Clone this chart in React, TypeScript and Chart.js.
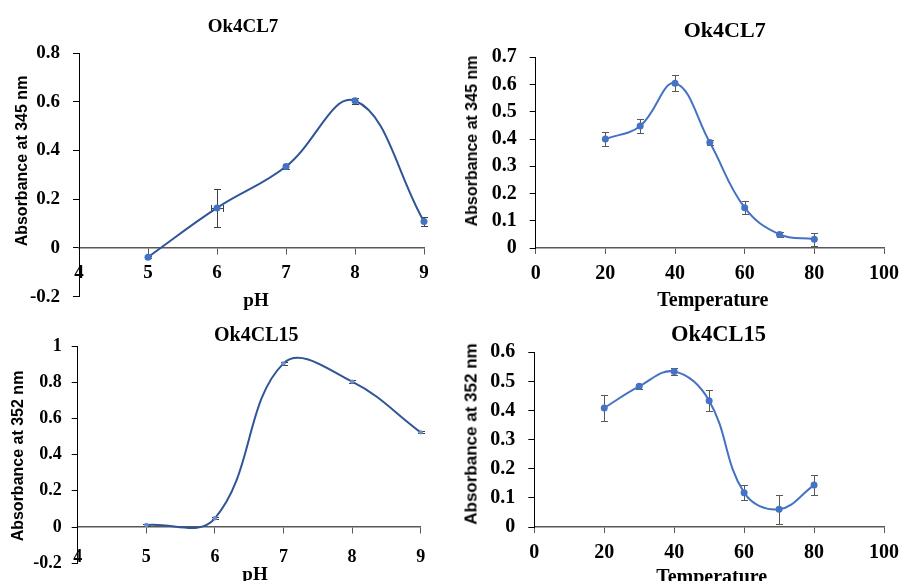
import React, { useEffect, useRef } from "react";
import { Chart, registerables } from "chart.js";

Chart.register(...registerables);

// ---------- DATA ----------
const phValues = [5, 6, 7, 8, 9];
const tempValues = [20, 30, 40, 50, 60, 70, 80];

const cl7PhAbs = [-0.038, 0.164, 0.334, 0.604, 0.108];
const cl7PhErr = [0.004, 0.078, 0.01, 0.012, 0.018];
const cl7PhXErr = [0, 0.085, 0, 0, 0];

const cl7TempAbs = [0.4, 0.448, 0.605, 0.387, 0.148, 0.05, 0.032];
const cl7TempErr = [0.026, 0.027, 0.03, 0.01, 0.024, 0.01, 0.023];

const cl15PhAbs = [0.011, 0.048, 0.904, 0.803, 0.523];
const cl15PhErr = [0.003, 0.005, 0.01, 0.008, 0.005];

const cl15TempAbs = [0.409, 0.483, 0.534, 0.434, 0.118, 0.061, 0.144];
const cl15TempErr = [0.045, 0.008, 0.012, 0.037, 0.025, 0.05, 0.035];

const phTicks = { min: 4, max: 9, step: 1 };
const tempTicks = { min: 0, max: 100, step: 20 };

const SERIF = "'Liberation Serif', 'DejaVu Serif', serif";
const SANS = "'Liberation Sans', 'DejaVu Sans', sans-serif";

type Panel = {
  box: [number, number, number, number];
  area: [number, number, number, number];
  xs: number[];
  ys: number[];
  yErr: number[];
  xErr?: number[];
  xr: { min: number; max: number; step: number };
  yr: { min: number; max: number; step: number };
  xAtZero: boolean;
  lineColor: string;
  pointColor: string;
  pointRadius: number;
  errColor: string;
  tickSize: number;
  xTickPad: number;
  yTickPad: number;
  title: string;
  titlePos: [number, number];
  titleSize: number;
  yTitle: string;
  yTitlePos: [number, number];
  yTitleSize: number;
  xTitle: string;
  xTitlePos: [number, number];
  xTitleSize: number;
};

const panels: Panel[] = [
  {
    box: [0, 0, 450, 310],
    area: [79, 53, 424, 297],
    xs: phValues,
    ys: cl7PhAbs,
    yErr: cl7PhErr,
    xErr: cl7PhXErr,
    xr: phTicks,
    yr: { min: -0.2, max: 0.8, step: 0.2 },
    xAtZero: true,
    lineColor: "#2F5597",
    pointColor: "#4472C4",
    pointRadius: 3.5,
    errColor: "#404040",
    tickSize: 19,
    xTickPad: 8,
    yTickPad: 13,
    title: "Ok4CL7",
    titlePos: [243, 24.5],
    titleSize: 19,
    yTitle: "Absorbance at 345 nm",
    yTitlePos: [21.7, 161],
    yTitleSize: 16,
    xTitle: "pH",
    xTitlePos: [256, 299],
    xTitleSize: 19,
  },
  {
    box: [450, 0, 457, 310],
    area: [85.7, 57.3, 434.3, 248],
    xs: tempValues,
    ys: cl7TempAbs,
    yErr: cl7TempErr,
    xr: tempTicks,
    yr: { min: 0, max: 0.7, step: 0.1 },
    xAtZero: false,
    lineColor: "#4472C4",
    pointColor: "#4472C4",
    pointRadius: 3.5,
    errColor: "#595959",
    tickSize: 20,
    xTickPad: 8,
    yTickPad: 13,
    title: "Ok4CL7",
    titlePos: [724.7, 29.5],
    titleSize: 22,
    yTitle: "Absorbance at 345 nm",
    yTitlePos: [472, 141],
    yTitleSize: 16,
    xTitle: "Temperature",
    xTitlePos: [712.8, 299],
    xTitleSize: 20,
  },
  {
    box: [0, 310, 450, 271],
    area: [77.7, 36, 420.7, 253.3],
    xs: phValues,
    ys: cl15PhAbs,
    yErr: cl15PhErr,
    xr: phTicks,
    yr: { min: -0.2, max: 1, step: 0.2 },
    xAtZero: true,
    lineColor: "#2F5597",
    pointColor: "#6A8FD0",
    pointRadius: 2.2,
    errColor: "#404040",
    tickSize: 18,
    xTickPad: 14,
    yTickPad: 10,
    title: "Ok4CL15",
    titlePos: [256.3, 333.7],
    titleSize: 20,
    yTitle: "Absorbance at 352 nm",
    yTitlePos: [18.3, 455.5],
    yTitleSize: 16,
    xTitle: "pH",
    xTitlePos: [255, 573],
    xTitleSize: 19,
  },
  {
    box: [450, 310, 457, 271],
    area: [84.3, 42.3, 437.3, 217],
    xs: tempValues,
    ys: cl15TempAbs,
    yErr: cl15TempErr,
    xr: tempTicks,
    yr: { min: 0, max: 0.6, step: 0.1 },
    xAtZero: false,
    lineColor: "#4472C4",
    pointColor: "#4472C4",
    pointRadius: 3.5,
    errColor: "#595959",
    tickSize: 20,
    xTickPad: 8,
    yTickPad: 13,
    title: "Ok4CL15",
    titlePos: [718.5, 333.7],
    titleSize: 22.5,
    yTitle: "Absorbance at 352 nm",
    yTitlePos: [470.7, 433.7],
    yTitleSize: 17,
    xTitle: "Temperature",
    xTitlePos: [711.7, 576],
    xTitleSize: 20,
  },
];

const errorBarPlugin = {
  id: "errorBars",
  beforeDatasetsDraw(chart: any, _args: any, opts: any) {
    const yErr: number[] = opts?.yErr || [];
    const xErr: number[] = opts?.xErr || [];
    const color: string = opts?.color || "#404040";
    const cap = 3.5;
    const data = chart.data.datasets[0].data as { x: number; y: number }[];
    const sx = chart.scales.x;
    const sy = chart.scales.y;
    const ctx = chart.ctx as CanvasRenderingContext2D;
    ctx.save();
    ctx.strokeStyle = color;
    ctx.lineWidth = 1;
    data.forEach((p, i) => {
      const px = Math.round(sx.getPixelForValue(p.x)) + 0.5;
      const py = Math.round(sy.getPixelForValue(p.y)) + 0.5;
      const e = yErr[i] || 0;
      if (e > 0) {
        const t = Math.round(sy.getPixelForValue(p.y + e)) + 0.5;
        const b = Math.round(sy.getPixelForValue(p.y - e)) + 0.5;
        ctx.beginPath();
        ctx.moveTo(px, t);
        ctx.lineTo(px, b);
        ctx.moveTo(px - cap, t);
        ctx.lineTo(px + cap, t);
        ctx.moveTo(px - cap, b);
        ctx.lineTo(px + cap, b);
        ctx.stroke();
      }
      const ex = xErr[i] || 0;
      if (ex > 0) {
        const l = Math.round(sx.getPixelForValue(p.x - ex)) + 0.5;
        const r = Math.round(sx.getPixelForValue(p.x + ex)) + 0.5;
        ctx.beginPath();
        ctx.moveTo(l, py);
        ctx.lineTo(r, py);
        ctx.moveTo(l, py - cap);
        ctx.lineTo(l, py + cap);
        ctx.moveTo(r, py - cap);
        ctx.lineTo(r, py + cap);
        ctx.stroke();
      }
    });
    ctx.restore();
  },
};

const fmt = (v: any) => String(Math.round(Number(v) * 10) / 10);

function makeChart(canvas: HTMLCanvasElement, p: Panel, H: number) {
  const W = p.box[2];
  const [l, t, r, b] = p.area;
  const tickFont = { family: SERIF, size: p.tickSize, weight: "bold" as const };
  return new Chart(canvas, {
    type: "line",
    data: {
      datasets: [
        {
          data: p.xs.map((x, i) => ({ x, y: p.ys[i] })),
          borderColor: p.lineColor,
          borderWidth: 2,
          backgroundColor: p.pointColor,
          pointBackgroundColor: p.pointColor,
          pointBorderColor: p.pointColor,
          pointRadius: p.pointRadius,
          pointBorderWidth: 0,
          tension: 0.4,
          fill: false,
          clip: false as any,
        },
      ],
    },
    plugins: [errorBarPlugin],
    options: {
      animation: false,
      responsive: false,
      maintainAspectRatio: false,
      events: [],
      layout: {
        padding: {
          left: 0,
          top: t,
          right: W - r,
          bottom: p.xAtZero ? H - b : 0,
        },
      },
      plugins: {
        legend: { display: false },
        tooltip: { enabled: false },
        title: { display: false },
        errorBars: { yErr: p.yErr, xErr: p.xErr || [], color: p.errColor },
      } as any,
      scales: {
        x: {
          type: "linear",
          position: (p.xAtZero ? { y: 0 } : "bottom") as any,
          min: p.xr.min,
          max: p.xr.max,
          afterFit: (s: any) => {
            if (!p.xAtZero) s.height = H - b;
          },
          ticks: {
            stepSize: p.xr.step,
            font: tickFont,
            color: "#000",
            padding: p.xTickPad,
            maxRotation: 0,
            autoSkip: false,
            callback: fmt,
          },
          grid: {
            display: true,
            drawOnChartArea: false,
            drawTicks: true,
            tickLength: 6,
            tickColor: "#595959",
            lineWidth: 1,
          },
          border: { display: true, color: "#595959", width: 1.5 },
        },
        y: {
          type: "linear",
          position: "left",
          min: p.yr.min,
          max: p.yr.max,
          afterFit: (s: any) => {
            s.width = l;
          },
          ticks: {
            stepSize: p.yr.step,
            font: tickFont,
            color: "#000",
            padding: p.yTickPad,
            autoSkip: false,
            callback: fmt,
          },
          grid: {
            display: true,
            drawOnChartArea: false,
            drawTicks: true,
            tickLength: 6,
            tickColor: "#000",
            lineWidth: 1,
          },
          border: { display: true, color: "#000", width: 1 },
        },
      },
    },
  });
}

function Text(props: {
  x: number;
  y: number;
  size: number;
  family: string;
  text: string;
  rotate?: boolean;
}) {
  return (
    <div
      style={{
        position: "absolute",
        left: props.x,
        top: props.y,
        transform: `translate(-50%, -50%)${props.rotate ? " rotate(-90deg)" : ""}`,
        font: `bold ${props.size}px ${props.family}`,
        lineHeight: 1,
        whiteSpace: "nowrap",
        color: "#000",
      }}
    >
      {props.text}
    </div>
  );
}

export default function App() {
  const refs = useRef<(HTMLCanvasElement | null)[]>([]);

  useEffect(() => {
    const charts = panels.map((p, i) => {
      const cv = refs.current[i]!;
      let H = p.box[3];
      cv.width = p.box[2];
      cv.height = H;
      cv.style.height = H + "px";
      let c = makeChart(cv, p, H);
      const diff = p.area[3] - c.chartArea.bottom;
      if (Math.abs(diff) > 0.5) {
        c.destroy();
        H = Math.round(H + diff);
        cv.width = p.box[2];
        cv.height = H;
        cv.style.height = H + "px";
        c = makeChart(cv, p, H);
      }
      return c;
    });
    return () => charts.forEach((c) => c.destroy());
  }, []);

  return (
    <div
      style={{
        position: "absolute",
        left: 0,
        top: 0,
        width: 907,
        height: 581,
        background: "#fff",
        overflow: "hidden",
      }}
    >
      {panels.map((p, i) => (
        <canvas
          key={"c" + i}
          ref={(el) => {
            refs.current[i] = el;
          }}
          width={p.box[2]}
          height={p.box[3]}
          style={{
            position: "absolute",
            left: p.box[0],
            top: p.box[1],
            width: p.box[2],
            height: p.box[3],
          }}
        />
      ))}
      {panels.map((p, i) => (
        <React.Fragment key={"t" + i}>
          <Text x={p.titlePos[0]} y={p.titlePos[1]} size={p.titleSize} family={SERIF} text={p.title} />
          <Text x={p.yTitlePos[0]} y={p.yTitlePos[1]} size={p.yTitleSize} family={SANS} text={p.yTitle} rotate />
          <Text x={p.xTitlePos[0]} y={p.xTitlePos[1]} size={p.xTitleSize} family={SERIF} text={p.xTitle} />
        </React.Fragment>
      ))}
    </div>
  );
}
